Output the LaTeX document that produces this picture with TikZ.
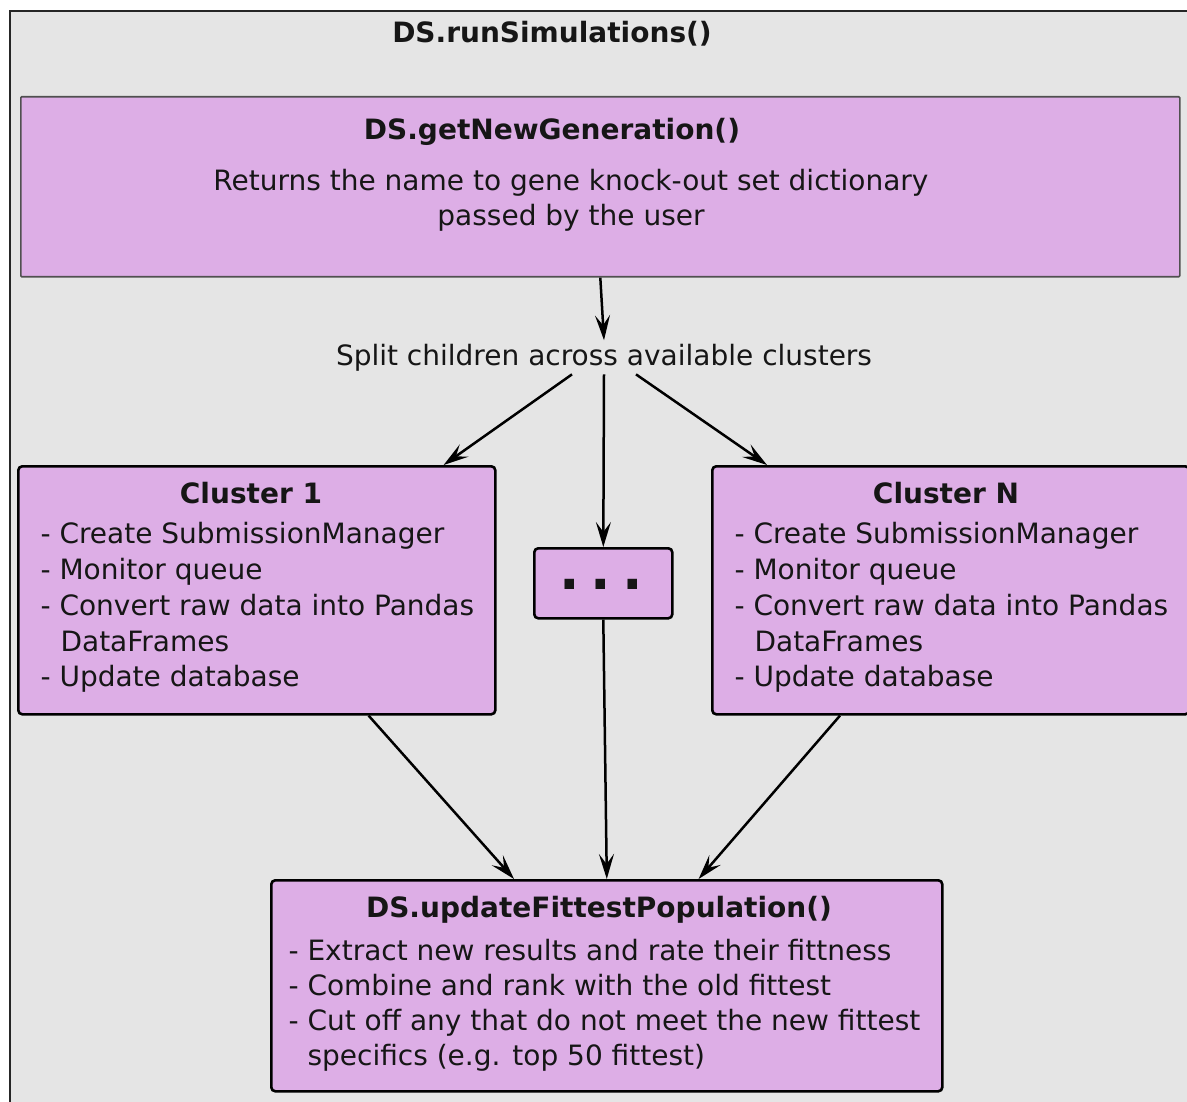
\documentclass[tikz,border=0pt]{standalone}
\usepackage{fontspec}
\setmainfont{DejaVu Sans}
\usetikzlibrary{arrows.meta}
\definecolor{panel}{RGB}{229,229,229}
\definecolor{boxfill}{RGB}{221,174,230}
\definecolor{ink}{RGB}{22,22,22}
\definecolor{edge}{RGB}{80,80,80}
\begin{document}
\begin{tikzpicture}[x=1pt,y=-1pt,
  every node/.style={font=\fontsize{28}{35}\selectfont, text=ink},
  line/.style={anchor=base west},
  heading/.style={anchor=base, font=\fontsize{28}{35}\selectfont\bfseries},
  genbox/.style={draw=edge, line width=1.6pt, fill=boxfill, rounded corners=1pt,
    anchor=north west, inner sep=0pt},
  stepbox/.style={draw=black, line width=2.6pt, fill=boxfill, rounded corners=4pt,
    anchor=north west, inner sep=0pt},
  arr/.style={draw=black, line width=2.5pt,
    -{Stealth[length=25pt,width=15pt,inset=10pt]}},
  frame/.style={draw=black!85, line width=2.6pt, fill=panel}]

\useasboundingbox (0,0) rectangle (1187,1102);
\fill[white] (0,0) rectangle (1187,1102);

% outer panel for DS.runSimulations()
\begin{scope}
  \clip (0,0) rectangle (1187,1102);
  \draw[frame] (10,11) rectangle (1230,1140);
\end{scope}
\node[heading] (runT) at (552,43) {DS.runSimulations()};

% DS.getNewGeneration()
\node[genbox, minimum width=1159pt, minimum height=180pt] (gen) at (20,96) {};
\node[heading] (genT) at (552,140) {DS.getNewGeneration()};
\node[anchor=base] (genL1) at (571,191) {Returns the name to gene knock-out set dictionary};
\node[anchor=base] (genL2) at (571,226) {passed by the user};

% split label
\node[anchor=base] (split) at (604,365) {Split children across available clusters};

% Cluster 1
\node[stepbox, minimum width=477pt, minimum height=248pt] (c1) at (17,465) {};
\node[heading] (c1T) at (251,503) {Cluster 1};
\node[line] (c1a) at (37,543) {- Create SubmissionManager};
\node[line] (c1b) at (37,579) {- Monitor queue};
\node[line] (c1c) at (37,615) {- Convert raw data into Pandas};
\node[line] (c1d) at (57,651) {DataFrames};
\node[line] (c1e) at (37,686) {- Update database};

% Cluster N
\node[stepbox, minimum width=477pt, minimum height=248pt] (cN) at (711,465) {};
\node[heading] (cNT) at (946,503) {Cluster N};
\node[line] (cNa) at (731,543) {- Create SubmissionManager};
\node[line] (cNb) at (731,579) {- Monitor queue};
\node[line] (cNc) at (731,615) {- Convert raw data into Pandas};
\node[line] (cNd) at (751,651) {DataFrames};
\node[line] (cNe) at (731,686) {- Update database};

% remaining clusters
\node[stepbox, minimum width=138pt, minimum height=70pt] (dots) at (533,547) {};
\node[anchor=base, font=\fontsize{54}{54}\selectfont\bfseries] (dotsT) at (601,589) {.\hspace{11pt}.\hspace{11pt}.};

% DS.updateFittestPopulation()
\node[stepbox, minimum width=671pt, minimum height=211pt] (fit) at (270,879) {};
\node[heading] (fitT) at (599,917) {DS.updateFittestPopulation()};
\node[line] (fita) at (285,960) {- Extract new results and rate their fittness};
\node[line] (fitb) at (285,995) {- Combine and rank with the old fittest};
\node[line] (fitc) at (285,1030) {- Cut off any that do not meet the new fittest};
\node[line] (fitd) at (304,1065) {specifics (e.g. top 50 fittest)};

% connectors
\draw[arr] (gen.south) -- (split.north);
\draw[arr] ([xshift=-32pt]split.south) -- ([xshift=-53pt]c1.north east);
\draw[arr] (split.south) -- (dots.north);
\draw[arr] ([xshift=32pt]split.south) -- ([xshift=56pt]cN.north west);
\draw[arr] ([xshift=-128pt]c1.south east) -- ([xshift=244pt]fit.north west);
\draw[arr] (dots.south) -- (fit.north);
\draw[arr] ([xshift=129pt]cN.south west) -- ([xshift=-245pt]fit.north east);
\end{tikzpicture}
\end{document}
